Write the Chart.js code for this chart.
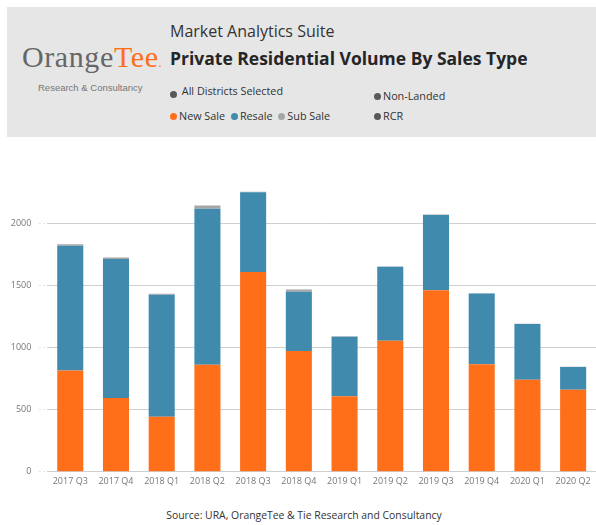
<!DOCTYPE html>
<html>
<head>
<meta charset="utf-8">
<title>Private Residential Volume By Sales Type</title>
<script src="https://cdn.jsdelivr.net/npm/chart.js@4"></script>
<style>
  html, body { margin: 0; padding: 0; background: #fff; }
  body { width: 596px; height: 525px; position: relative; overflow: hidden; font-family: "Open Sans", "Noto Sans", sans-serif; }
  .header { position: absolute; left: 7px; top: 7px; width: 589px; height: 130px; background: #e6e6e6; }
  .abs { position: absolute; white-space: nowrap; }
  .logo { left: 15px; top: 33px; font-family: "Liberation Serif", "DejaVu Serif", serif; font-size: 30px; letter-spacing: 0.6px; color: #666; }
  .logo .tee { color: #ff6f1a; }
  .logo .dot { color: #ff6f1a; font-size: 12px; letter-spacing: 0; }
  .tagline { left: 31px; top: 75px; font-family: "Liberation Sans", Arial, sans-serif; font-size: 9.5px; color: #777; }
  .suite { left: 163px; top: 13px; font-size: 16px; color: #333; }
  .title { left: 163px; top: 39px; font-size: 17.5px; font-weight: bold; color: #252525; }
  .item { font-size: 10.8px; color: #333; }
  .item i { display: inline-block; width: 7px; height: 7px; border-radius: 50%; margin-right: 2px; vertical-align: 0px; }
  #chartBox { position: absolute; left: 0; top: 150px; width: 596px; height: 350px; }
  .source { left: 0; width: 596px; top: 508px; text-align: center; font-size: 10.4px; color: #333; padding-left: 12px; box-sizing: border-box; }
</style>
</head>
<body>
  <div class="header">
    <div class="abs logo">Orange<span class="tee">Tee</span><span class="dot">.</span></div>
    <div class="abs tagline">Research &amp; Consultancy</div>
    <div class="abs suite">Market Analytics Suite</div>
    <div class="abs title">Private Residential Volume By Sales Type</div>
    <div class="abs item" style="left:163px; top:76px;"><i style="background:#595959; vertical-align:-3px;"></i> All Districts Selected</div>
    <div class="abs item" style="left:367px; top:81px;"><i style="background:#595959;"></i>Non-Landed</div>
    <div class="abs item" style="left:163px; top:101px;"><i style="background:#ff6f1a;"></i>New Sale <i style="background:#408aae; margin-left:3px;"></i>Resale <i style="background:#a6a6a6; margin-left:3px;"></i>Sub Sale</div>
    <div class="abs item" style="left:367px; top:101px;"><i style="background:#595959;"></i>RCR</div>
  </div>
  <div id="chartBox"><canvas id="chart"></canvas></div>
  <div class="abs source">Source: URA, OrangeTee &amp; Tie Research and Consultancy</div>

<script>
  const quarters = ['2017 Q3', '2017 Q4', '2018 Q1', '2018 Q2', '2018 Q3', '2018 Q4',
                    '2019 Q1', '2019 Q2', '2019 Q3', '2019 Q4', '2020 Q1', '2020 Q2'];
  const newSale = [816, 593, 443, 862, 1608, 972, 607, 1055, 1461, 865, 741, 660];
  const resale  = [1004, 1120, 982, 1256, 644, 477, 480, 596, 608, 571, 448, 183];
  const subSale = [13, 13, 8, 27, 4, 18, 4, 3, 3, 2, 2, 2];
  const yTicks  = [0, 500, 1000, 1500, 2000];

  const tickFont = { family: '"Open Sans", "Noto Sans", sans-serif', size: 9 };
  const gridColor = '#cfcfcf';

  function barSet(label, data, color) {
    return {
      label,
      data,
      backgroundColor: color,
      borderWidth: 0,
      barPercentage: 0.57,
      categoryPercentage: 1.0
    };
  }

  new Chart(document.getElementById('chart').getContext('2d'), {
    type: 'bar',
    data: {
      labels: quarters,
      datasets: [
        barSet('New Sale', newSale, '#ff6f1a'),
        barSet('Resale', resale, '#408aae'),
        barSet('Sub Sale', subSale, '#a6a6a6')
      ]
    },
    options: {
      responsive: true,
      maintainAspectRatio: false,
      animation: false,
      layout: { padding: { top: 30, right: 0, left: 0, bottom: 0 } },
      plugins: {
        legend: { display: false },
        tooltip: { enabled: false }
      },
      scales: {
        x: {
          stacked: true,
          grid: { display: false, drawTicks: false },
          border: { display: false },
          ticks: { color: '#777', font: tickFont, padding: 4, maxRotation: 0, autoSkip: false },
          afterFit: scale => { scale.height = 28.3; }
        },
        y: {
          stacked: true,
          min: 0,
          max: 2350,
          afterBuildTicks: scale => {
            scale.ticks = yTicks.map(value => ({ value }));
          },
          afterFit: scale => { scale.width = 47.4; },
          grid: {
            color: gridColor,
            borderDash: [1, 3.4],
            tickBorderDash: [1, 3.4],
            tickColor: gridColor,
            tickLength: 8,
            drawTicks: true
          },
          border: { display: false },
          ticks: { color: '#777', font: tickFont, padding: 8, callback: value => String(value) }
        }
      }
    }
  });
</script>
</body>
</html>
